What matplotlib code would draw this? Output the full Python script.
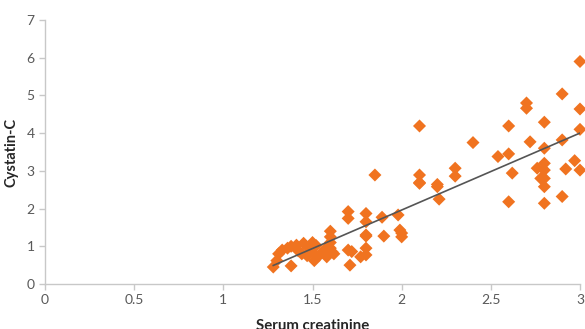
import numpy as np
import matplotlib
matplotlib.use("Agg")
import matplotlib.pyplot as plt

serum_creatinine = [
    1.28, 1.30, 1.31, 1.33, 1.36, 1.38, 1.38, 1.41, 1.42, 1.44, 1.45, 1.47, 1.48,
    1.50, 1.50, 1.51, 1.52, 1.54, 1.57, 1.58, 1.60, 1.60, 1.60, 1.60, 1.61, 1.62,
    1.70, 1.70, 1.70, 1.71, 1.72, 1.77, 1.80, 1.80, 1.80, 1.80, 1.80, 1.80,
    1.85, 1.89, 1.90, 1.98, 1.99, 2.00, 2.00,
    2.10, 2.10, 2.10, 2.10, 2.20, 2.20, 2.21, 2.30, 2.30, 2.40,
    2.54, 2.60, 2.60, 2.60, 2.62, 2.70, 2.70, 2.72, 2.76, 2.78,
    2.80, 2.80, 2.80, 2.80, 2.80, 2.80, 2.80, 2.90, 2.90, 2.90, 2.92, 2.97,
    3.00, 3.00, 3.00, 3.00,
]
cystatin_c = [
    0.45, 0.62, 0.80, 0.90, 0.95, 1.00, 0.48, 1.03, 0.88, 0.80, 1.08, 0.75, 0.95,
    1.10, 0.85, 0.62, 1.02, 0.77, 0.92, 0.72, 1.40, 1.25, 1.10, 0.95, 0.85, 0.80,
    1.92, 1.74, 0.90, 0.50, 0.86, 0.72, 1.87, 1.65, 1.30, 1.27, 0.95, 0.77,
    2.89, 1.77, 1.27, 1.83, 1.43, 1.35, 1.25,
    4.19, 2.89, 2.69, 2.67, 2.64, 2.58, 2.25, 3.07, 2.86, 3.75,
    3.38, 3.45, 4.19, 2.18, 2.94, 4.80, 4.66, 3.77, 3.07, 2.80,
    4.29, 3.60, 3.20, 3.02, 2.58, 2.14, 2.80, 5.04, 3.82, 2.32, 3.05, 3.27,
    5.90, 4.64, 4.10, 3.02,
]
x_ticks = [0, 0.5, 1, 1.5, 2, 2.5, 3]
x_tick_labels = ["0", "0.5", "1", "1.5", "2", "2.5", "3"]
y_ticks = [0, 1, 2, 3, 4, 5, 6, 7]

x = np.array(serum_creatinine)
y = np.array(cystatin_c)
slope, intercept = np.polyfit(x, y, 1)
xl = np.array([x.min(), x.max()])

fig = plt.figure(figsize=(5.85, 3.29), dpi=100)
ax = fig.add_axes([45/585, 45/329, 535/585, 264/329])

ax.scatter(x, y, marker="D", s=44, color="#F07320", edgecolors="none", zorder=3, clip_on=False)
ax.plot(xl, slope*xl + intercept, color="#555555", lw=1.2, zorder=4)

ax.set_xlim(0, 3)
ax.set_ylim(0, 7)
ax.set_xticks(x_ticks)
ax.set_xticklabels(x_tick_labels)
ax.set_yticks(y_ticks)
for s in ["top", "right"]:
    ax.spines[s].set_visible(False)
for s in ["left", "bottom"]:
    ax.spines[s].set_color("#C8C8C8")
    ax.spines[s].set_linewidth(1.0)
ax.tick_params(axis="both", colors="#C8C8C8", labelcolor="#595959", labelsize=10, length=4, width=1)
for lab in ax.get_xticklabels() + ax.get_yticklabels():
    lab.set_family("Lato")

ax.set_xlabel("Serum creatinine", fontsize=10.8, fontweight="bold", color="#262626", family="Lato", labelpad=9)
ax.set_ylabel("Cystatin-C", fontsize=10.5, fontweight="bold", color="#262626", family="Lato", labelpad=6)

fig.savefig("out.png", dpi=100)
